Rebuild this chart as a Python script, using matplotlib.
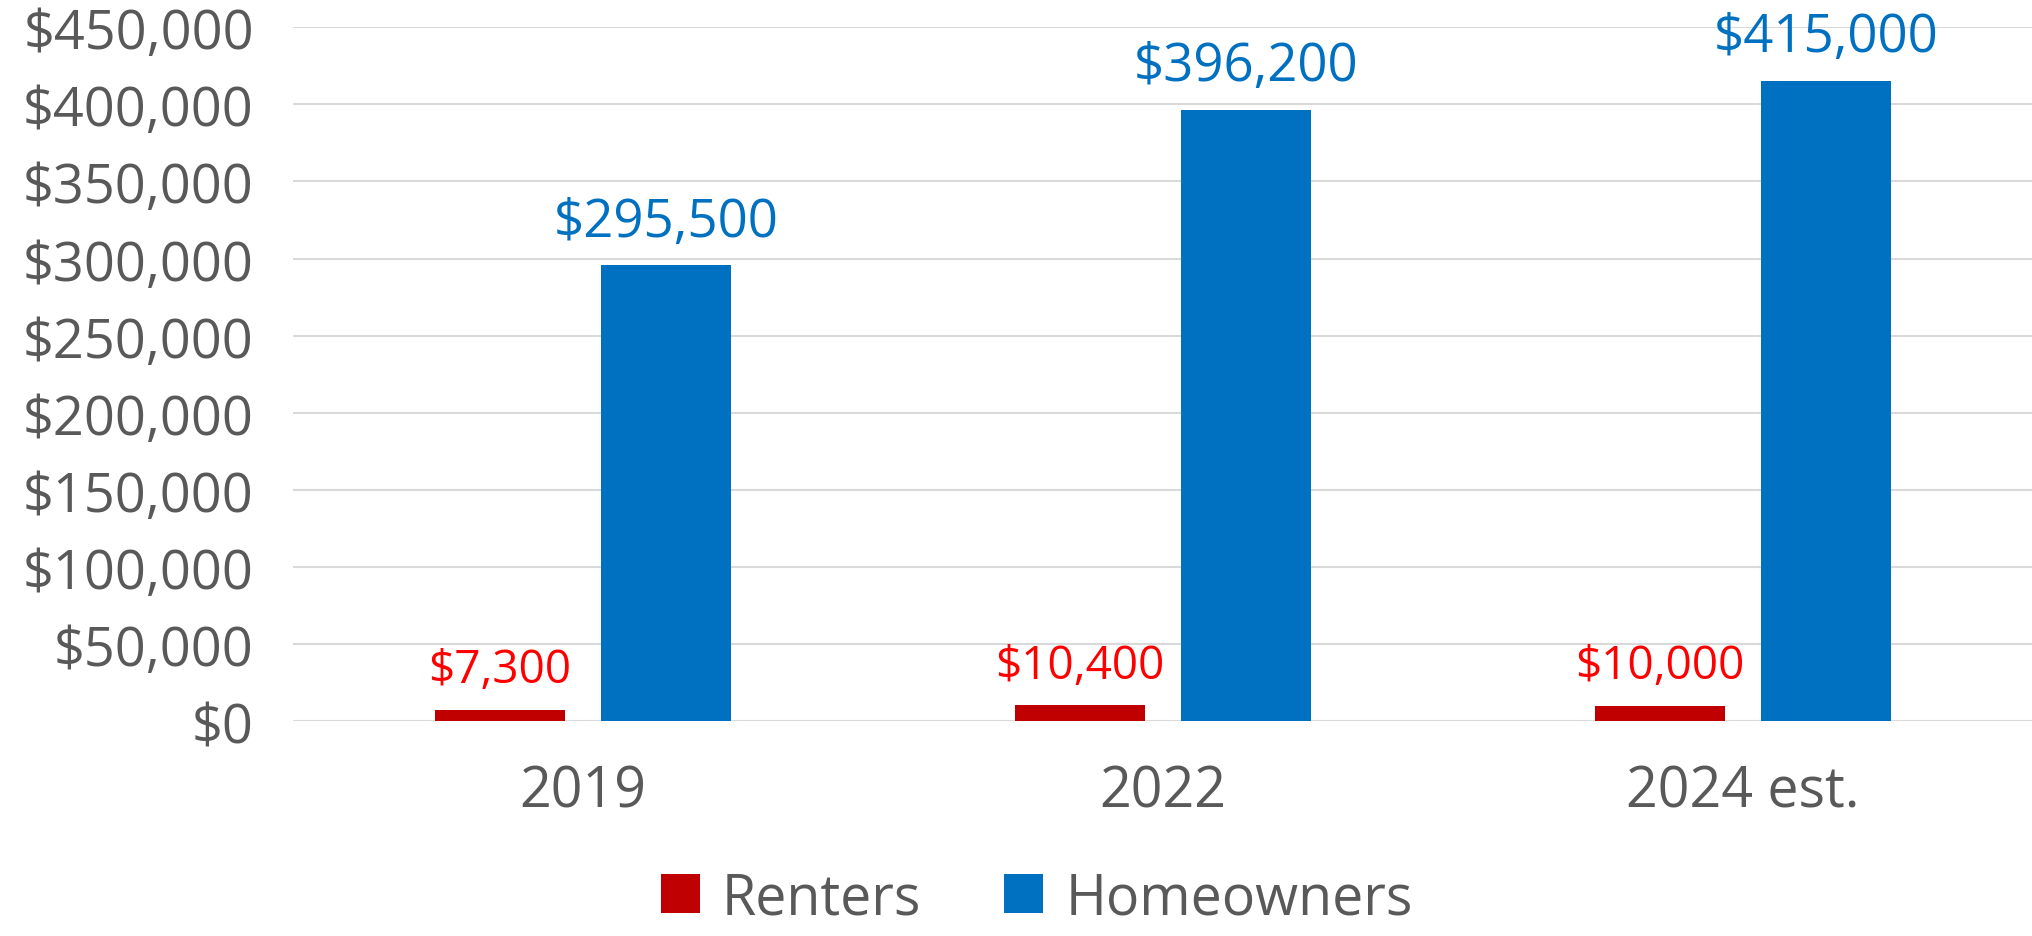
import numpy as np
import matplotlib
matplotlib.use("Agg")
import matplotlib.pyplot as plt
from matplotlib.ticker import FuncFormatter

plt.rcParams['font.family'] = ['Open Sans', 'DejaVu Sans']

years = ['2019', '2022', '2024 est.']
renters = [7300, 10400, 10000]
homeowners = [295500, 396200, 415000]

red = '#C00000'
blue = '#0070C0'
grey = '#595959'

fig = plt.figure(figsize=(20.33, 9.37), dpi=100)
ax = fig.add_axes([0.144, 0.229, 0.856, 0.741])

x = np.arange(len(years))
w = 0.224
off = 0.143
b1 = ax.bar(x - off, renters, w, color=red, label='Renters', zorder=3)
b2 = ax.bar(x + off, homeowners, w, color=blue, label='Homeowners', zorder=3)

# data labels above each bar
for rect, v in zip(b1, renters):
    ax.annotate(f'${v:,}', (rect.get_x() + rect.get_width() / 2, v),
                xytext=(0, 12), textcoords='offset points',
                ha='center', va='bottom', fontsize=33, color='#FF0000')
for rect, v in zip(b2, homeowners):
    ax.annotate(f'${v:,}', (rect.get_x() + rect.get_width() / 2, v),
                xytext=(0, 12), textcoords='offset points',
                ha='center', va='bottom', fontsize=38, color=blue)

ax.set_xlim(-0.5, 2.5)
ax.set_ylim(0, 450000)
ax.set_yticks(np.arange(0, 450001, 50000))
ax.yaxis.set_major_formatter(FuncFormatter(lambda v, p: f'${int(v):,}'))
ax.set_xticks(x)
ax.set_xticklabels(years)
ax.tick_params(axis='y', labelsize=39, colors=grey, length=0, pad=28)
ax.tick_params(axis='x', labelsize=40, colors=grey, length=0, pad=30)
ax.grid(axis='y', color='#D9D9D9', linewidth=1.5, zorder=0)
for s in ax.spines.values():
    s.set_visible(False)

leg = fig.legend(loc='center', bbox_to_anchor=(0.51, 0.04), ncol=2,
                 frameon=False, fontsize=40, handlelength=0.7, handleheight=0.7,
                 handletextpad=0.4, columnspacing=1.5, borderpad=0)
for t in leg.get_texts():
    t.set_color(grey)

fig.savefig('out.png', dpi=100)
